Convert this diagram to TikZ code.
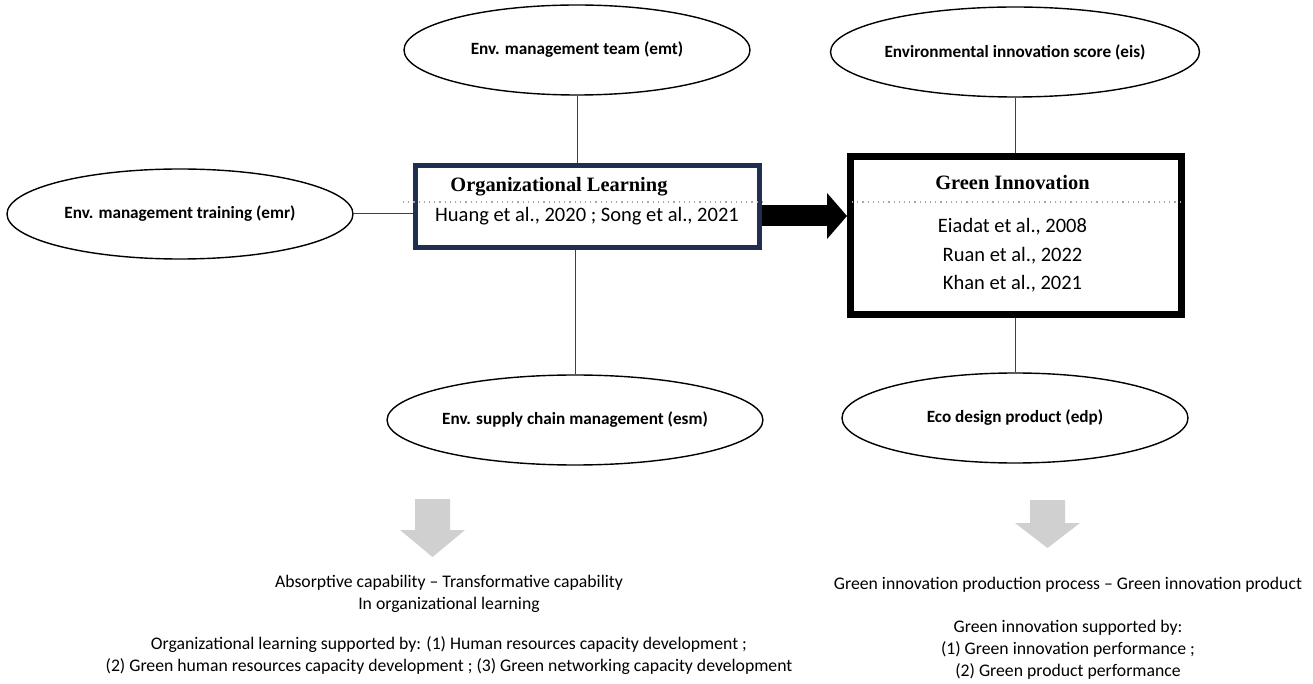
\documentclass[tikz,border=0pt]{standalone}
\usepackage{fontspec}
\setmainfont{Carlito}
\newfontfamily\titlefont{Liberation Serif}
\usetikzlibrary{arrows.meta, positioning, shapes.geometric}
\definecolor{navy}{HTML}{1F2F4F}
\definecolor{arrowgray}{HTML}{D0D0D0}

\begin{document}
\begin{tikzpicture}[x=0.5pt, y=-0.5pt,
    var/.style={draw, ellipse, line width=0.7pt, inner sep=0pt, minimum width=173pt, minimum height=45pt, font=\fontsize{8.6}{10}\selectfont\bfseries},
    link/.style={line width=0.5pt, black!75},
    cite/.style={inner sep=0pt, font=\fontsize{10.25}{14.25}\selectfont},
    head/.style={inner sep=0pt, font=\fontsize{10.2}{12}\selectfont\titlefont\bfseries},
    sep/.style={dotted, line width=0.6pt, gray!70},
    note/.style={align=center, inner sep=0pt, font=\fontsize{8.85}{11}\selectfont}]
    \useasboundingbox (0,0) rectangle (1313,684);

    % Organizational Learning
    \node[draw=navy, line width=2.5pt, minimum width=172pt, minimum height=41pt] (ol) at (587.5,206.5) {};
    \draw[sep] (403,202) -- (762,202);
    \node[head, anchor=base west] (olhead) at (450,192) {Organizational Learning};
    \node[cite, anchor=base] (olcite) at (587,222) {Huang et al., 2020 ; Song et al., 2021};

    % Green Innovation
    \node[draw, line width=3.5pt, minimum width=165.5pt, minimum height=79pt] (gi) at (1016,235.5) {};
    \draw[sep] (852,202) -- (1181,202);
    \node[head, anchor=base] (gihead) at (1012.5,190) {Green Innovation};
    \node[cite, anchor=base, align=center] (gicite) at (1012.5,290) {Eiadat et al., 2008\\Ruan et al., 2022\\Khan et al., 2021};

    % Variables
    \node[var] (emt) at (577,50) {Env. management team (emt)};
    \node[var] (emr) at (180,214) {Env. management training (emr)};
    \node[var] (esm) at (575,420) {Env. supply chain management (esm)};
    \node[var] (eis) at (1015,52) {Environmental innovation score (eis)};
    \node[var] (edp) at (1015,418) {Eco design product (edp)};

    \draw[link] (emt) -- (emt |- ol.north);
    \draw[link] (emr) -- (ol.west |- emr);
    \draw[link] (esm) -- (esm |- ol.south);
    \draw[link] (eis) -- (eis |- gi.north);
    \draw[link] (edp) -- (edp |- gi.south);

    \draw[line width=10.5pt, -{Triangle[length=10pt, width=22.5pt]}] (ol.east |- 0,216) -- (gi.west |- 0,216);

    % Outcomes
    \fill[arrowgray] (415,499) -- (450,499) -- (450,530) -- (465,530) -- (432.5,557) -- (400,530) -- (415,530) -- cycle;
    \fill[arrowgray] (1030,500) -- (1065,500) -- (1065,523) -- (1080,523) -- (1047.5,548) -- (1015,523) -- (1030,523) -- cycle;

    \node[note] (olres) at (449,594) {Absorptive capability -- Transformative capability\\In organizational learning};
    \node[note] (olsup) at (449,656) {Organizational learning supported by: (1) Human resources capacity development ;\\(2) Green human resources capacity development ; (3) Green networking capacity development};
    \node[note] (gires) at (1068,585) {Green innovation production process -- Green innovation product};
    \node[note] (gisup) at (1068,650) {Green innovation supported by:\\(1) Green innovation performance ;\\(2) Green product performance};
\end{tikzpicture}
\end{document}
